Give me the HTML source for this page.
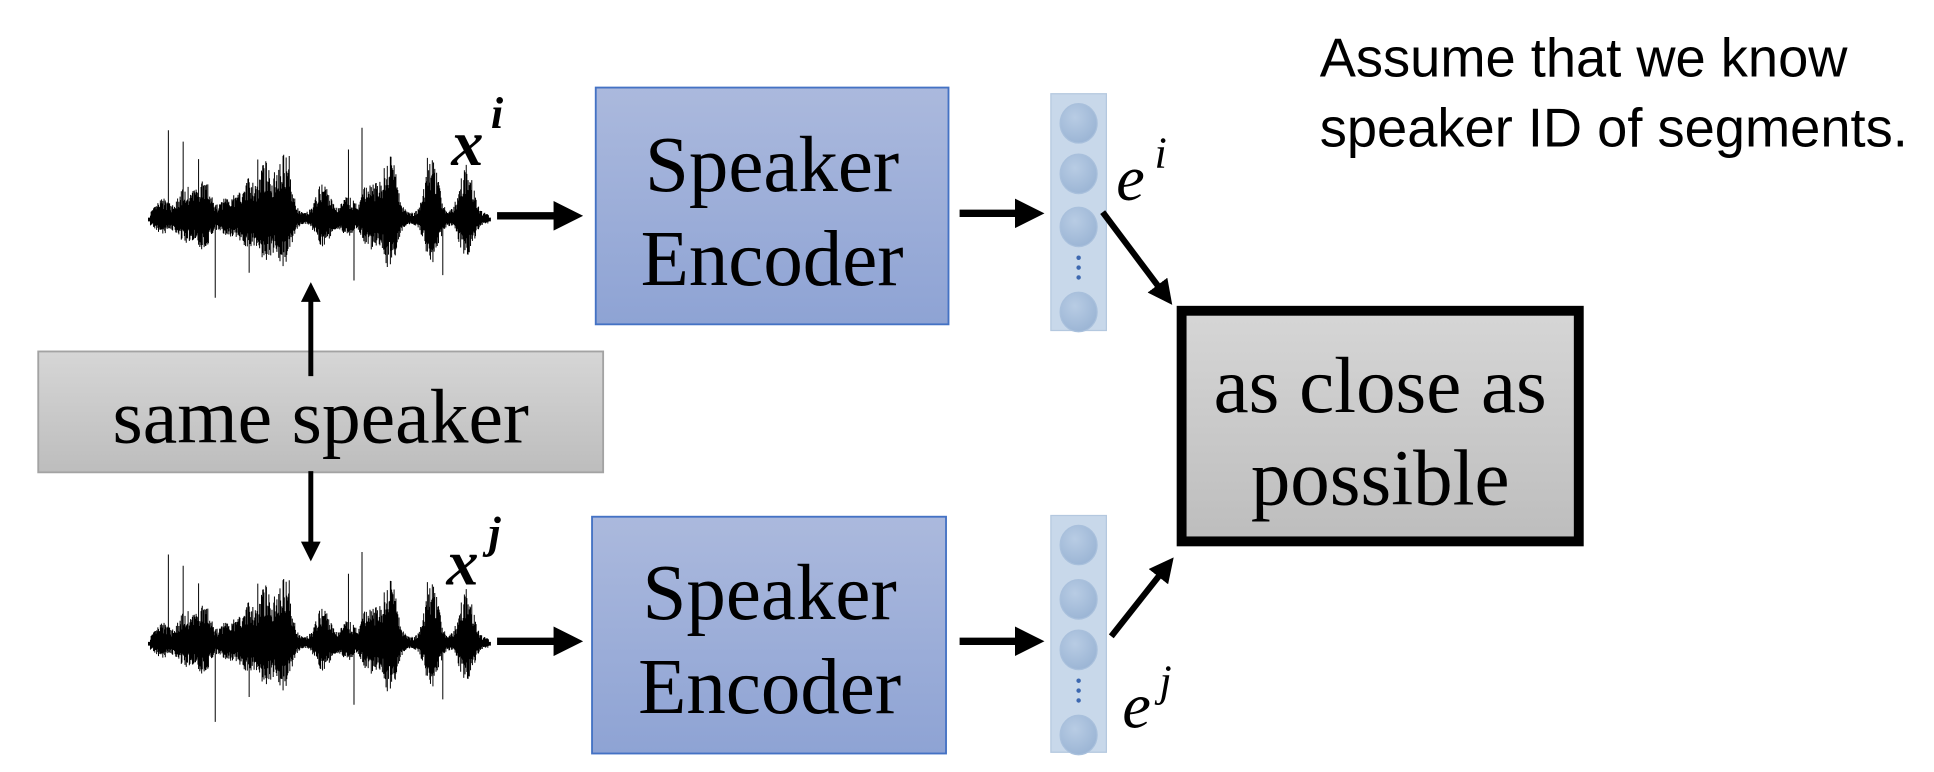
<!DOCTYPE html>
<html><head><meta charset="utf-8"><style>
html,body{margin:0;padding:0;background:#fff;}
svg{display:block;}
</style></head><body>
<svg id="s" width="1934" height="772" viewBox="0 0 1568 626" preserveAspectRatio="none" xmlns="http://www.w3.org/2000/svg">
<defs>
<linearGradient id="blue" x1="0" y1="0" x2="0" y2="1"><stop offset="0" stop-color="#abb9dd"/><stop offset="1" stop-color="#8ea3d4"/></linearGradient>
<linearGradient id="gray" x1="0" y1="0" x2="0" y2="1"><stop offset="0" stop-color="#d6d6d6"/><stop offset="1" stop-color="#bdbdbd"/></linearGradient>
<radialGradient id="circ" cx="0.4" cy="0.35" r="0.7"><stop offset="0" stop-color="#b8cce4"/><stop offset="1" stop-color="#9ab4d4"/></radialGradient>
<marker id="ah" markerWidth="4" markerHeight="4" refX="2.2" refY="2" orient="auto" markerUnits="strokeWidth"><path d="M0,0 L4,2 L0,4 z" fill="#000"/></marker>
</defs>
<g id="waves"></g>
<text x="366" y="134" font-family="Liberation Serif,serif" font-style="italic" font-weight="bold" font-size="52">x</text>
<text x="398" y="104" font-family="Liberation Serif,serif" font-style="italic" font-weight="bold" font-size="36">i</text>
<text x="362" y="474" font-family="Liberation Serif,serif" font-style="italic" font-weight="bold" font-size="52">x</text>
<text x="396" y="444" font-family="Liberation Serif,serif" font-style="italic" font-weight="bold" font-size="36">j</text>
<line x1="403" y1="175" x2="462" y2="175" stroke="#000" stroke-width="6" marker-end="url(#ah)"/>
<line x1="403" y1="520" x2="462" y2="520" stroke="#000" stroke-width="6" marker-end="url(#ah)"/>
<line x1="778" y1="173" x2="836" y2="173" stroke="#000" stroke-width="6" marker-end="url(#ah)"/>
<line x1="778" y1="520" x2="836" y2="520" stroke="#000" stroke-width="6" marker-end="url(#ah)"/>
<rect x="483" y="71" width="286" height="192" fill="url(#blue)" stroke="#4472c4" stroke-width="1.5"/>
<text font-family="Liberation Serif,serif" font-size="64" text-anchor="middle"><tspan x="626" y="155">Speaker</tspan><tspan x="626" y="231">Encoder</tspan></text>
<rect x="480" y="419" width="287" height="192" fill="url(#blue)" stroke="#4472c4" stroke-width="1.5"/>
<text font-family="Liberation Serif,serif" font-size="64" text-anchor="middle"><tspan x="624" y="502">Speaker</tspan><tspan x="624" y="578">Encoder</tspan></text>
<g id="vec"></g>
<text x="905" y="162" font-family="Liberation Serif,serif" font-style="italic" font-size="52">e</text>
<text x="936" y="136" font-family="Liberation Serif,serif" font-style="italic" font-size="36">i</text>
<text x="910" y="590" font-family="Liberation Serif,serif" font-style="italic" font-size="52">e</text>
<text x="940" y="564" font-family="Liberation Serif,serif" font-style="italic" font-size="36">j</text>
<line x1="894" y1="172" x2="945" y2="240" stroke="#000" stroke-width="5" marker-end="url(#ah)"/>
<line x1="901" y1="516" x2="946" y2="459" stroke="#000" stroke-width="5" marker-end="url(#ah)"/>
<rect x="958" y="252" width="322" height="187" fill="url(#gray)" stroke="#000" stroke-width="8"/>
<text font-family="Liberation Serif,serif" font-size="64" text-anchor="middle"><tspan x="1119" y="334">as close as</tspan><tspan x="1119" y="409">possible</tspan></text>
<rect x="31" y="285" width="458" height="98" fill="url(#gray)" stroke="#a3a3a3" stroke-width="1.5"/>
<text x="260" y="359" font-family="Liberation Serif,serif" font-size="63" text-anchor="middle">same speaker</text>
<line x1="252" y1="305" x2="252" y2="236" stroke="#000" stroke-width="4" marker-end="url(#ah)"/>
<line x1="252" y1="382" x2="252" y2="448" stroke="#000" stroke-width="4" marker-end="url(#ah)"/>
<text font-family="Liberation Sans,sans-serif" font-size="44"><tspan x="1070" y="62">Assume that we know</tspan><tspan x="1070" y="119">speaker ID of segments.</tspan></text>
</svg>
<script>
(function(){
var NS="http://www.w3.org/2000/svg";
var seed=7;function r(){seed=(seed*16807)%2147483647;return seed/2147483647;}
var bursts=[[132,12],[150,22],[165,30],[185,16],[200,28],[215,42],[230,52],[262,26],[282,14],[300,30],[316,52],[350,46],[378,40]];
function env(x){var e=5;for(var i=0;i<bursts.length;i++){var d=(x-bursts[i][0])/7.5;e+= bursts[i][1]*Math.exp(-d*d);}return e;}
var g=document.getElementById('waves');
[178,522].forEach(function(cy){
 seed=7;
 var d="";
 for(var x=122;x<=396;x+=0.5){
  var e=env(x);var up=e*(0.45+0.55*r());var dn=e*(0.4+0.55*r())*0.75;
  if(r()<0.01){up=Math.max(up,45+r()*30);}if(r()<0.01){dn=Math.max(dn,40+r()*28);}
  up=Math.min(up,78);dn=Math.min(dn,68);
  d+="M"+x.toFixed(1)+" "+(cy-up).toFixed(1)+"V"+(cy+dn).toFixed(1);
 }
 var p=document.createElementNS(NS,'path');p.setAttribute('d',d);p.setAttribute('stroke','#000');p.setAttribute('stroke-width','0.8');p.setAttribute('fill','none');g.appendChild(p);
 var l=document.createElementNS(NS,'line');l.setAttribute('x1',120);l.setAttribute('x2',398);l.setAttribute('y1',cy);l.setAttribute('y2',cy);l.setAttribute('stroke','#000');l.setAttribute('stroke-width','3');g.appendChild(l);
});
var v=document.getElementById('vec');
[[76,100,141,184,253,217],[418,442,486,527,596,560]].forEach(function(a){
 var rc=document.createElementNS(NS,'rect');rc.setAttribute('x',852);rc.setAttribute('y',a[0]);rc.setAttribute('width',45);rc.setAttribute('height',192);rc.setAttribute('fill','#c8d8ea');rc.setAttribute('stroke','#b4c8df');v.appendChild(rc);
 [a[1],a[2],a[3],a[4]].forEach(function(y){var c=document.createElementNS(NS,'ellipse');c.setAttribute('cx',874.5);c.setAttribute('cy',y);c.setAttribute('rx',15);c.setAttribute('ry',16);c.setAttribute('fill','url(#circ)');c.setAttribute('stroke','#a9c0dc');v.appendChild(c);});
 [-8,0,8].forEach(function(o){var c=document.createElementNS(NS,'circle');c.setAttribute('cx',874.5);c.setAttribute('cy',a[5]+o);c.setAttribute('r',1.8);c.setAttribute('fill','#3d68b0');v.appendChild(c);});
});
})();
</script>
</body></html>
